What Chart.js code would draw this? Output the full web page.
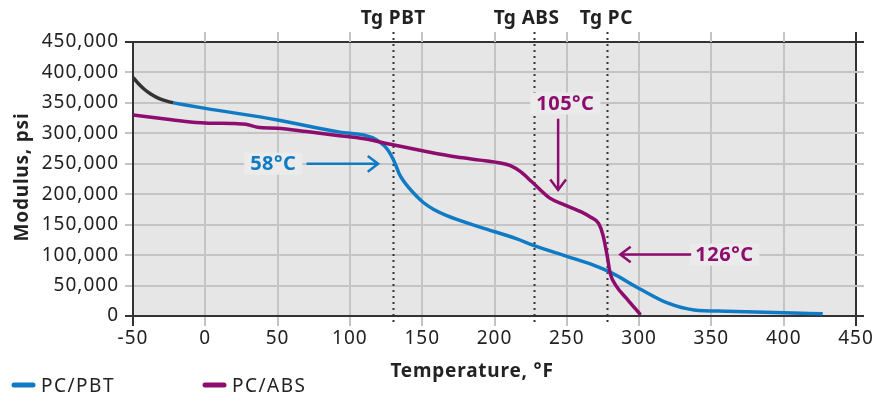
<!DOCTYPE html>
<html>
<head>
<meta charset="utf-8">
<script src="https://cdn.jsdelivr.net/npm/chart.js@4/dist/chart.umd.min.js"></script>
<style>
  html, body { margin: 0; padding: 0; background: #fff; }
  #wrap { width: 890px; height: 398px; position: relative; }
</style>
</head>
<body>
<div id="wrap"><canvas id="chart"></canvas></div>
<script>
// PC/PBT curve (blue)
const pbtTemp = [-22, 0, 50, 93, 110, 118, 124, 127, 130, 132, 134, 137, 141, 146, 151, 158, 167, 190, 215, 227, 250, 268, 280, 301, 320, 338, 360, 400, 427];
const pbtModulus = [350000, 341000, 322000, 302000, 297000, 290000, 279000, 270000, 257000, 246000, 234000, 222000, 210000, 197000, 186000, 175000, 165000, 146000, 127000, 116000, 98000, 84000, 72000, 44000, 21000, 10000, 8000, 5500, 3500];

// dark start of the PC/PBT curve
const startTemp = [-50, -46, -42, -38, -34, -30, -26, -22];
const startModulus = [392000, 381000, 372000, 365000, 359500, 355500, 352500, 350000];

// PC/ABS curve (purple)
const absTemp = [-50, -36, -15, 0, 20, 28, 36, 50, 70, 90, 110, 128, 151, 174, 190, 202, 211, 218, 226, 238, 248, 260, 266, 272, 275, 278, 280, 284, 292, 301];
const absModulus = [330000, 326000, 320000, 317000, 316000, 315000, 310000, 308500, 303000, 297000, 291000, 282000, 271000, 261000, 256000, 252000, 247000, 237000, 220000, 194000, 183000, 171000, 163000, 152000, 133000, 98000, 70000, 50000, 27000, 2000];

// glass transition markers
const tgLabels = ["Tg PBT", "Tg ABS", "Tg PC"];
const tgTemps = [130, 227, 278];

// callouts: text, text position, arrow from -> to (data units)
const noteText = ["58°C", "105°C", "126°C"];
const noteAt = [[47, 250000], [249, 349000], [359, 101000]];
const noteArrow = [[[70, 250000], [119.5, 250000]], [[244, 324000], [244, 207000]], [[336, 101000], [287, 101000]]];

const BLUE = "#0f7bc4";
const PURPLE = "#8c0d6e";
const DARK = "#333333";
const GRID = "#c4c4c4";
const FONT = "'Noto Sans', sans-serif";

const toPts = (xs, ys) => xs.map((x, i) => ({ x, y: ys[i] }));

const extras = {
  id: "extras",
  beforeDraw(chart) {
    const { ctx, chartArea: a } = chart;
    ctx.letterSpacing = "1px";
    ctx.save();
    ctx.fillStyle = "#e6e6e6";
    ctx.fillRect(a.left, a.top, a.right - a.left, a.bottom - a.top);
    ctx.restore();
  },
  beforeDatasetsDraw(chart) {
    const { ctx, chartArea: a, scales: { x, y } } = chart;
    ctx.save();
    ctx.lineWidth = 2;
    // grid stubs above the top and right of the plot
    x.ticks.forEach((t) => {
      const px = Math.round(x.getPixelForValue(t.value));
      ctx.strokeStyle = t.value === 450 ? DARK : GRID;
      if (t.value === -50) return;
      ctx.beginPath();
      ctx.moveTo(px, a.top - 10);
      ctx.lineTo(px, a.top);
      ctx.stroke();
    });
    y.ticks.forEach((t) => {
      const py = Math.round(y.getPixelForValue(t.value));
      ctx.strokeStyle = t.value === 450000 || t.value === 0 ? DARK : GRID;
      ctx.beginPath();
      ctx.moveTo(a.right, py);
      ctx.lineTo(a.right + 8, py);
      ctx.stroke();
    });
    // Tg dotted lines
    ctx.strokeStyle = DARK;
    ctx.setLineDash([2, 4]);
    tgTemps.forEach((t) => {
      const px = Math.round(x.getPixelForValue(t)) + 0.5;
      ctx.beginPath();
      ctx.moveTo(px, a.top - 10);
      ctx.lineTo(px, a.bottom + 10);
      ctx.stroke();
    });
    ctx.setLineDash([]);
    ctx.fillStyle = "#222";
    ctx.font = "bold 19px " + FONT;
    ctx.letterSpacing = "0.5px";
    ctx.textAlign = "center";
    ctx.textBaseline = "alphabetic";
    tgLabels.forEach((s, i) => {
      ctx.fillText(s, x.getPixelForValue(tgTemps[i]) + [0, -7, -1][i], 24);
    });
    ctx.restore();
  },
  afterDatasetsDraw(chart) {
    const { ctx, chartArea: a, scales: { x, y } } = chart;
    ctx.save();
    const colors = [BLUE, PURPLE, PURPLE];
    ctx.font = "bold 20px " + FONT;
    ctx.letterSpacing = "0.5px";
    ctx.textAlign = "center";
    ctx.textBaseline = "middle";
    noteText.forEach((s, i) => {
      const cx = x.getPixelForValue(noteAt[i][0]);
      const cy = y.getPixelForValue(noteAt[i][1]);
      const w = ctx.measureText(s).width + 12;
      ctx.fillStyle = "#ebebeb";
      ctx.fillRect(cx - w / 2, cy - 11, w, 22);
      ctx.fillStyle = colors[i];
      ctx.fillText(s, cx, cy + 1);
      // arrow
      const [p0, p1] = noteArrow[i];
      const x0 = x.getPixelForValue(p0[0]), y0 = y.getPixelForValue(p0[1]);
      const x1 = x.getPixelForValue(p1[0]), y1 = y.getPixelForValue(p1[1]);
      ctx.strokeStyle = colors[i];
      ctx.lineWidth = 2.5;
      ctx.beginPath();
      ctx.moveTo(x0, y0);
      ctx.lineTo(x1, y1);
      ctx.stroke();
      const ang = Math.atan2(y1 - y0, x1 - x0);
      const h = 13;
      ctx.beginPath();
      ctx.moveTo(x1 - h * Math.cos(ang - 0.65), y1 - h * Math.sin(ang - 0.65));
      ctx.lineTo(x1, y1);
      ctx.lineTo(x1 - h * Math.cos(ang + 0.65), y1 - h * Math.sin(ang + 0.65));
      ctx.stroke();
    });

    // axis titles
    ctx.fillStyle = "#222";
    ctx.font = "bold 19px " + FONT;
    ctx.letterSpacing = "0.8px";
    ctx.textBaseline = "alphabetic";
    ctx.fillText("Temperature, °F", 472, 377);
    ctx.save();
    ctx.translate(28, 177);
    ctx.rotate(-Math.PI / 2);
    ctx.fillText("Modulus, psi", 0, 0);
    ctx.restore();

    // legend
    ctx.font = "19px " + FONT;
    ctx.letterSpacing = "1.5px";
    ctx.textAlign = "left";
    ctx.lineCap = "round";
    ctx.lineWidth = 5;
    [["PC/PBT", BLUE, 12], ["PC/ABS", PURPLE, 203]].forEach(([s, c, lx]) => {
      ctx.strokeStyle = c;
      ctx.beginPath();
      ctx.moveTo(lx + 2, 385);
      ctx.lineTo(lx + 21, 385);
      ctx.stroke();
      ctx.fillStyle = "#222";
      ctx.fillText(s, lx + 29, 392);
    });
    ctx.restore();
  },
};

const line = (data, color) => ({
  data,
  borderColor: color,
  borderWidth: 3.5,
  pointRadius: 0,
  cubicInterpolationMode: "monotone",
  fill: false,
});

new Chart(document.getElementById("chart"), {
  type: "line",
  data: {
    datasets: [
      line(toPts(absTemp, absModulus), PURPLE),
      line(toPts(pbtTemp, pbtModulus), BLUE),
      line(toPts(startTemp, startModulus), DARK),
    ],
  },
  options: {
    responsive: true,
    maintainAspectRatio: false,
    animation: false,
    layout: { padding: { top: 42, right: 34, bottom: 0, left: 0 } },
    plugins: { legend: { display: false }, tooltip: { enabled: false } },
    scales: {
      x: {
        type: "linear",
        min: -50,
        max: 450,
        ticks: { stepSize: 50, color: "#222", font: { family: FONT, size: 19 }, padding: 1 },
        grid: {
          lineWidth: 2,
          tickLength: 10,
          color: (c) => (c.tick && (c.tick.value === 450 || c.tick.value === -50) ? DARK : GRID),
        },
        border: { display: true, color: DARK, width: 2 },
        afterFit: (s) => { s.height = 82; },
      },
      y: {
        min: 0,
        max: 450000,
        ticks: { stepSize: 50000, color: "#222", font: { family: FONT, size: 19 }, padding: 6 },
        grid: {
          lineWidth: 2,
          tickLength: 8,
          color: (c) => (c.tick && (c.tick.value === 450000 || c.tick.value === 0) ? DARK : GRID),
        },
        border: { display: true, color: DARK, width: 2 },
        afterFit: (s) => { s.width = 133; },
      },
    },
  },
  plugins: [extras],
});
</script>
</body>
</html>
